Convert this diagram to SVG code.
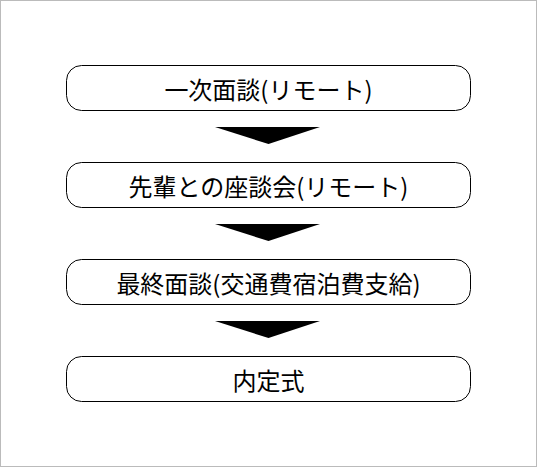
<svg xmlns="http://www.w3.org/2000/svg" width="537" height="467" viewBox="0 0 537 467">
<style>
.box{fill:#fff;stroke:#000;stroke-width:1}
.lbl{font-family:"Noto Sans CJK JP","Noto Sans",sans-serif;font-size:24px;fill:#000;text-anchor:middle;dominant-baseline:central}
.arr{fill:#000;stroke:none}
</style>
<rect x="0.5" y="0.5" width="536" height="466" fill="#fff" stroke="#bbb"/>
<g id="n1"><rect class="box" x="66.5" y="65.5" width="404" height="45" rx="15"/><text class="lbl" x="268.5" y="88">一次面談(リモート)</text></g>
<g id="n2"><rect class="box" x="66.5" y="162.5" width="404" height="45" rx="15"/><text class="lbl" x="268.5" y="185">先輩との座談会(リモート)</text></g>
<g id="n3"><rect class="box" x="66.5" y="259.5" width="404" height="45" rx="15"/><text class="lbl" x="268.5" y="282">最終面談(交通費宿泊費支給)</text></g>
<g id="n4"><rect class="box" x="66.5" y="356.5" width="404" height="45" rx="15"/><text class="lbl" x="268.5" y="379">内定式</text></g>
<g id="connectors">
<polygon class="arr" points="215,127 320,127 268.5,144"/>
<polygon class="arr" points="215,224 320,224 268.5,241"/>
<polygon class="arr" points="215,321 320,321 268.5,338"/>
</g>
</svg>
